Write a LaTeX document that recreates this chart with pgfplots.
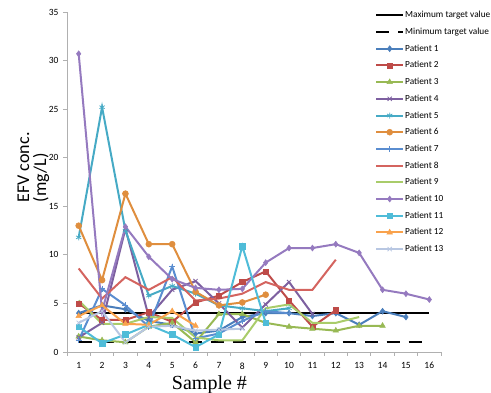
\documentclass[border=0pt]{standalone}
\usepackage{pgfplots}
\pgfplotsset{compat=1.18}
\usepackage{fontspec}
\setmainfont{Carlito}
\newfontfamily\timesfont{Liberation Serif}

\definecolor{c1}{HTML}{4A7EBB}
\definecolor{c2}{HTML}{BE4B48}
\definecolor{c3}{HTML}{98B954}
\definecolor{c4}{HTML}{7D60A0}
\definecolor{c5}{HTML}{46AAC5}
\definecolor{c6}{HTML}{DF8E3E}
\definecolor{c7}{HTML}{5A8DD0}
\definecolor{c8}{HTML}{D4645F}
\definecolor{c9}{HTML}{A9CC6A}
\definecolor{c10}{HTML}{957ABF}
\definecolor{c11}{HTML}{4FBCD8}
\definecolor{c12}{HTML}{F9A24C}
\definecolor{c13}{HTML}{B8C7E2}
\definecolor{axgray}{HTML}{B0B0B0}

\begin{document}
\begin{tikzpicture}
\begin{axis}[
  scale only axis, width=374pt, height=340pt,
  at={(67pt,41pt)}, anchor=south west,
  xmin=0.5, xmax=16.5, ymin=0, ymax=35,
  axis lines*=left,
  axis line style={draw=axgray, line width=0.8pt, -},
  xtick={1,...,16}, minor xtick={0.5,1.5,...,16.5},
  ytick={0,5,...,35},
  tick align=outside, major tick length=4pt, minor tick length=4pt,
  major x tick style={draw=none},
  minor x tick style={draw=axgray, line width=0.8pt},
  y tick style={draw=axgray, line width=0.8pt},
  /pgf/number format/assume math mode=true,
  tick label style={font=\fontsize{9.5}{10}\selectfont},
  xticklabel style={yshift=-3pt},
  yticklabel style={xshift=-1pt},
  every axis y label/.style={at={(axis description cs:-0.09,0.543)}, rotate=90, anchor=center, align=left, font=\fontsize{18}{17}\selectfont},
  every axis x label/.style={at={(axis description cs:0.381,-0.109)}, anchor=base, font=\timesfont\fontsize{20}{20}\selectfont},
  ylabel={EFV conc.\\(mg/L)},
  xlabel={Sample \#},
  legend style={at={(axis description cs:0.8235,1.007)}, anchor=north west, draw=none, fill=none,
    font=\fontsize{9.3}{12}\selectfont, row sep=5.7pt, inner sep=0pt,
    nodes={inner sep=1pt, text height=7pt, text depth=2pt}},
  legend cell align=left,
  legend image code/.code={\draw[mark repeat=2,mark phase=2,#1] plot coordinates {(0pt,0pt) (13.5pt,0pt) (27pt,0pt)};},
  every axis plot/.append style={line width=2pt},
]
\addplot[black, line width=1.8pt] coordinates {(1,4) (16,4)};
\addlegendentry{Maximum target value}
\addplot[black, line width=2pt, dash pattern=on 13pt off 9pt] coordinates {(1,1) (16,1)};
\addlegendentry{Minimum target value}

\addplot[c1, mark=diamond*, mark size=3pt, mark options={solid, line width=0.5pt}] coordinates {
(1,4.0) (2,4.8) (3,4.4) (4,3.2) (5,2.8) (6,1.9) (7,2.2) (8,3.6) (9,4.0) (10,4.0) (11,3.7) (12,4.0) (13,2.8) (14,4.2) (15,3.6)};
\addlegendentry{Patient 1}
\addplot[c2, mark=square*, mark size=2.6pt, mark options={solid, line width=0.5pt}] coordinates {
(1,5.0) (2,3.3) (3,3.3) (4,4.1) (5,3.1) (6,5.1) (7,5.8) (8,7.2) (9,8.3) (10,5.3) (11,2.6) (12,4.3)};
\addlegendentry{Patient 2}
\addplot[c3, mark=triangle*, mark size=3.2pt, mark options={solid, line width=0.5pt}] coordinates {
(1,1.6) (2,1.2) (3,1.0) (4,2.6) (5,3.0) (6,1.0) (7,3.9) (8,3.9) (9,3.0) (10,2.6) (11,2.4) (12,2.2) (13,2.7) (14,2.7)};
\addlegendentry{Patient 3}
\addplot[c4, mark=x, mark size=3pt, mark options={solid, line width=0.8pt}] coordinates {
(1,1.5) (2,3.0) (3,12.7) (4,3.6) (5,6.4) (6,7.3) (7,5.0) (8,2.5) (9,4.9) (10,7.2) (11,3.9)};
\addlegendentry{Patient 4}
\addplot[c5, mark=asterisk, mark size=3pt, mark options={solid, line width=0.8pt}] coordinates {
(1,11.8) (2,25.2) (3,12.5) (4,5.8) (5,6.8) (6,6.0) (7,4.8) (8,4.5) (9,4.2) (10,4.5)};
\addlegendentry{Patient 5}
\addplot[c6, mark=*, mark size=3pt, mark options={solid, line width=0.5pt}] coordinates {
(1,13.0) (2,7.4) (3,16.3) (4,11.1) (5,11.1) (6,6.2) (7,4.8) (8,5.1) (9,5.9)};
\addlegendentry{Patient 6}
\addplot[c7, mark=+, mark size=3pt, mark options={solid, line width=0.8pt}] coordinates {
(1,1.2) (2,6.5) (3,4.8) (4,2.6) (5,8.8) (6,1.4) (7,1.9) (8,3.2) (9,4.2) (10,4.0)};
\addlegendentry{Patient 7}
\addplot[c8] coordinates {
(1,8.6) (2,5.5) (3,7.7) (4,6.4) (5,7.7) (6,5.3) (7,5.5) (8,6.0) (9,7.2) (10,6.4) (11,6.4) (12,9.5)};
\addlegendentry{Patient 8}
\addplot[c9] coordinates {
(1,5.3) (2,2.9) (3,2.9) (4,3.6) (5,3.5) (6,1.5) (7,1.2) (8,1.2) (9,4.5) (10,4.9) (11,3.0) (12,3.0) (13,3.6)};
\addlegendentry{Patient 9}
\addplot[c10, mark=diamond*, mark size=3pt, mark options={solid, line width=0.5pt}] coordinates {
(1,30.7) (2,4.2) (3,12.9) (4,9.8) (5,7.5) (6,6.6) (7,6.4) (8,6.5) (9,9.2) (10,10.7) (11,10.7) (12,11.1) (13,10.2) (14,6.4) (15,6.0) (16,5.4)};
\addlegendentry{Patient 10}
\addplot[c11, mark=square*, mark size=2.8pt, mark options={solid, line width=0.5pt}] coordinates {
(1,2.6) (2,0.9) (3,1.8) (4,2.8) (5,1.8) (6,0.5) (7,1.8) (8,10.9) (9,3.0)};
\addlegendentry{Patient 11}
\addplot[c12, mark=triangle*, mark size=3.2pt, mark options={solid, line width=0.5pt}] coordinates {
(1,3.7) (2,4.8) (3,2.9) (4,2.8) (5,4.2) (6,2.7)};
\addlegendentry{Patient 12}
\addplot[c13, mark=x, mark size=3pt, mark options={solid, line width=0.8pt}] coordinates {
(1,3.0) (2,4.2) (3,1.0) (4,2.6) (5,2.7) (6,2.2) (7,2.3) (8,2.4)};
\addlegendentry{Patient 13}
\end{axis}
\pgfresetboundingbox
\path[use as bounding box] (0pt,0pt) rectangle (491pt,393pt);
\end{tikzpicture}
\end{document}
